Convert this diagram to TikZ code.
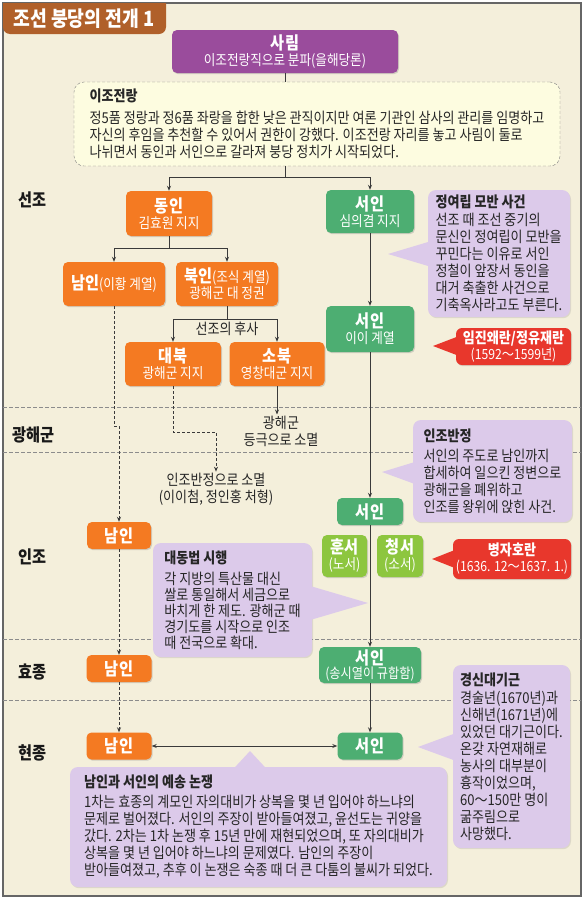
\documentclass[tikz,border=0pt]{standalone}
\usepackage{fontspec}
\setmainfont{Noto Sans CJK KR}[FakeStretch=0.87]
\usetikzlibrary{arrows.meta, calc, shadows}
\definecolor{bgcream}{HTML}{F4EFDB}
\definecolor{tabbrown}{HTML}{B0602A}
\definecolor{sarimpurple}{HTML}{9A4C9C}
\definecolor{dongorange}{HTML}{F47A22}
\definecolor{seogreen}{HTML}{4DAE72}
\definecolor{lightgreen}{HTML}{8DC63F}
\definecolor{warred}{HTML}{E8372C}
\definecolor{notelav}{HTML}{DCCAEA}
\definecolor{noteyellow}{HTML}{FDFCE0}
\definecolor{linegray}{HTML}{3A3A3A}
\newcommand{\partyname}[1]{{\fontsize{17.5}{19}\selectfont\bfseries #1}}
\newcommand{\notetitle}[1]{{\bfseries #1}}

\begin{document}
\begin{tikzpicture}[
            x=1pt, y=-1pt,
            party box/.style={rounded corners=5pt, align=center, text=white, inner sep=1pt, font=\fontsize{14.5}{16}\selectfont, drop shadow={opacity=0.3, shadow xshift=1pt, shadow yshift=-1.2pt}},
            east box/.style={party box, fill=dongorange},
            west box/.style={party box, fill=seogreen},
            sub box/.style={party box, fill=lightgreen},
            note box/.style={rounded corners=8pt, fill=notelav, align=left, inner sep=0pt, text=black!85, font=\fontsize{15}{17}\selectfont, drop shadow={opacity=0.2, shadow xshift=1pt, shadow yshift=-1.2pt}},
            war box/.style={rounded corners=6pt, fill=warred, text=white, align=center, inner sep=0pt, font=\fontsize{14}{16}\selectfont, drop shadow={opacity=0.25, shadow xshift=1pt, shadow yshift=-1.2pt}},
            link line/.style={line width=0.8pt, draw=linegray},
            link arrow/.style={link line, -{Stealth[length=5pt, width=4pt]}},
            dash arrow/.style={link arrow, dash pattern=on 3pt off 2pt},
            era line/.style={line width=0.6pt, draw=black!45, dash pattern=on 3.5pt off 2.5pt},
            era label/.style={font=\fontsize{17.5}{20}\selectfont\bfseries, anchor=west, inner sep=0pt, text=black!90},
            plain label/.style={align=center, font=\fontsize{15}{17}\selectfont, inner sep=1pt, text=black!85},
        ]

        % Page and frame
        \fill[white] (0,0) rectangle (585,900);
        \useasboundingbox (0,0) rectangle (585,900);
        \draw[line width=1.2pt, draw=black!60, fill=bgcream] (3,3) rectangle (581,896);

        % Era separators
        \foreach \y in {407, 452, 639, 700} {
            \draw[era line] (3,\y) -- (581,\y);
        }

        % Title tab
        \fill[tabbrown] (3,3) -- (166,3) [rounded corners=7pt] -- (166,34) -- (3,34) [sharp corners] -- cycle;
        \node[text=white, font=\fontsize{21}{24}\selectfont\bfseries, inner sep=0pt] (title) at (84,18.5) {조선 붕당의 전개 1};

        % Era labels
        \node[era label] (sunjo) at (18,200) {선조};
        \node[era label] (gwanghae) at (12,435) {광해군};
        \node[era label] (injoera) at (18,557) {인조};
        \node[era label] (hyojong) at (18,672) {효종};
        \node[era label] (hyeonjong) at (18,753) {현종};

        % Sarim and the Ijo jeollang note
        \node[party box, fill=sarimpurple, minimum width=226, minimum height=43] (sarim) at (285,51.5) {\partyname{사림}\\이조전랑직으로 분파(을해당론)};
        \node[rounded corners=10pt, draw=black!50, dash pattern=on 3pt off 2pt, fill=noteyellow, align=left, inner sep=0pt, text=black!85, font=\fontsize{15}{17}\selectfont, minimum width=486, minimum height=84] (ijo) at (317,124)
            {\notetitle{이조전랑}\\[5pt]
             정5품 정랑과 정6품 좌랑을 합한 낮은 관직이지만 여론 기관인 삼사의 관리를 임명하고\\
             자신의 후임을 추천할 수 있어서 권한이 강했다. 이조전랑 자리를 놓고 사림이 둘로\\
             나뉘면서 동인과 서인으로 갈라져 붕당 정치가 시작되었다.};

        % Dongin side
        \node[east box, minimum width=86, minimum height=45] (dongin) at (169,213.5) {\partyname{동인}\\김효원 지지};
        \node[east box, minimum width=102, minimum height=44] (namin1) at (114,284) {\partyname{남인}(이황 계열)};
        \node[east box, minimum width=102, minimum height=44] (bukin) at (227,284) {\partyname{북인}(조식 계열)\\광해군 대 정권};
        \node[east box, minimum width=96, minimum height=44] (daebuk) at (173,364) {\partyname{대북}\\광해군 지지};
        \node[east box, minimum width=95, minimum height=44] (sobuk) at (277,364) {\partyname{소북}\\영창대군 지지};
        \node[plain label] (heir) at (227,329) {선조의 후사};
        \node[plain label] (sobukend) at (281,431) {광해군\\등극으로 소멸};
        \node[plain label] (daebukend) at (216,489) {인조반정으로 소멸\\(이이첨, 정인홍 처형)};
        \node[east box, minimum width=64, minimum height=27] (namin2) at (119,535.5) {\partyname{남인}};
        \node[east box, minimum width=65, minimum height=27] (namin3) at (119,668.5) {\partyname{남인}};
        \node[east box, minimum width=65, minimum height=27] (namin4) at (119,746) {\partyname{남인}};

        % Seoin side
        \node[west box, minimum width=88, minimum height=43] (seoin1) at (370,211.5) {\partyname{서인}\\심의겸 지지};
        \node[west box, minimum width=88, minimum height=46] (seoin2) at (370,329) {\partyname{서인}\\이이 계열};
        \node[west box, minimum width=66, minimum height=27] (seoin3) at (370,511.5) {\partyname{서인}};
        \node[sub box, minimum width=45, minimum height=42] (hunseo) at (344.5,556) {\partyname{훈서}\\(노서)};
        \node[sub box, minimum width=46, minimum height=42] (cheongseo) at (400,556) {\partyname{청서}\\(소서)};
        \node[west box, minimum width=102, minimum height=36, font=\fontsize{14}{16}\selectfont] (seoin4) at (370,665) {\partyname{서인}\\[-2pt](송시열이 규합함)};
        \node[west box, minimum width=65, minimum height=27] (seoin5) at (370,746) {\partyname{서인}};

        % Notes
        \node[note box, minimum width=142, minimum height=127] (jeongyeorip) at (499,253.5)
            {\notetitle{정여립 모반 사건}\\[1pt]
             선조 때 조선 중기의\\문신인 정여립이 모반을\\꾸민다는 이유로 서인\\정철이 앞장서 동인을\\대거 축출한 사건으로\\기축옥사라고도 부른다.};
        \node[war box, minimum width=115, minimum height=37] (imjin) at (513.5,346.5) {{\fontsize{15}{16}\selectfont\bfseries 임진왜란/정유재란}\\(1592～1599년)};
        \node[note box, minimum width=159, minimum height=102] (injoban) at (492.5,471)
            {\notetitle{인조반정}\\[3pt]
             서인의 주도로 남인까지\\합세하여 일으킨 정변으로\\광해군을 폐위하고\\인조를 왕위에 앉힌 사건.};
        \node[war box, minimum width=118, minimum height=40] (byeongja) at (512,559) {{\fontsize{15}{16}\selectfont\bfseries 병자호란}\\(1636. 12～1637. 1.)};
        \node[note box, minimum width=159, minimum height=114, font=\fontsize{15}{16}\selectfont] (daedong) at (232.5,600)
            {\notetitle{대동법 시행}\\[5pt]
             각 지방의 특산물 대신\\쌀로 통일해서 세금으로\\바치게 한 제도. 광해군 때\\경기도를 시작으로 인조\\때 전국으로 확대.};
        \node[note box, minimum width=117, minimum height=183] (gyeongsin) at (511.5,756.5)
            {\notetitle{경신대기근}\\[1pt]
             경술년(1670년)과\\신해년(1671년)에\\있었던 대기근이다.\\온갖 자연재해로\\농사의 대부분이\\흉작이었으며,\\60～150만 명이\\굶주림으로\\사망했다.};
        \node[note box, minimum width=377, minimum height=120] (yesong) at (258.5,827)
            {\notetitle{남인과 서인의 예송 논쟁}\\[3pt]
             1차는 효종의 계모인 자의대비가 상복을 몇 년 입어야 하느냐의\\
             문제로 벌어졌다. 서인의 주장이 받아들여졌고, 윤선도는 귀양을\\
             갔다. 2차는 1차 논쟁 후 15년 만에 재현되었으며, 또 자의대비가\\
             상복을 몇 년 입어야 하느냐의 문제였다. 남인의 주장이\\
             받아들여졌고, 추후 이 논쟁은 숙종 때 더 큰 다툼의 불씨가 되었다.};

        % Note pointers
        \fill[notelav] (388,254) -- ($(jeongyeorip.west)+(2,-12)$) -- ($(jeongyeorip.west)+(2,13)$) -- cycle;
        \fill[warred] (433,346) -- ($(imjin.west)+(2,-10)$) -- ($(imjin.west)+(2,9)$) -- cycle;
        \fill[notelav] (382,472) -- ($(injoban.west)+(2,-9)$) -- ($(injoban.west)+(2,13)$) -- cycle;
        \fill[warred] (432,559) -- ($(byeongja.west)+(2,-9)$) -- ($(byeongja.west)+(2,9)$) -- cycle;
        \fill[notelav] (368,603) -- ($(daedong.east)+(-2,-14)$) -- ($(daedong.east)+(-2,20)$) -- cycle;
        \fill[notelav] (418,747) -- ($(gyeongsin.west)+(2,-23)$) -- ($(gyeongsin.west)+(2,4)$) -- cycle;
        \fill[notelav] (250,751) -- ($(yesong.north)+(-25,2)$) -- ($(yesong.north)+(8,2)$) -- cycle;

        % Connectors
        \draw[link line] (sarim.south) -- (sarim.south |- ijo.north);
        \draw[link line] (sarim.south |- ijo.south) -- ++(0,11) coordinate (split1);
        \draw[link arrow] (split1) -| (dongin.north);
        \draw[link arrow] (split1) -| (seoin1.north);
        \draw[link line] (dongin.south) -- ++(0,12) coordinate (split2);
        \draw[link arrow] (split2) -| (namin1.north);
        \draw[link arrow] (split2) -| (bukin.north);
        \draw[link line] (bukin.south) -- ++(0,13) coordinate (split3);
        \draw[link arrow] (split3) -| (daebuk.north);
        \draw[link arrow] (split3) -| (sobuk.north);
        \draw[link arrow] (sobuk.south) -- (sobuk.south |- sobukend.north);
        \draw[dash arrow] (daebuk.south) -- ++(0,46) -| (daebukend.north);
        \draw[dash arrow] (namin1.south) -- ++(0,120) -| (namin2.north);
        \draw[dash arrow] (namin2.south) -- (namin3.north);
        \draw[dash arrow] (namin3.south) -- (namin4.north);
        \draw[link arrow] (seoin1.south) -- (seoin2.north);
        \draw[link arrow] (seoin2.south) -- (seoin3.north);
        \draw[link arrow] (seoin3.south) -- (seoin4.north);
        \draw[link arrow] (seoin4.south) -- (seoin5.north);
        \draw[link line, {Stealth[length=5pt, width=4pt]}-{Stealth[length=5pt, width=4pt]}] (namin4.east) -- (seoin5.west);

        \end{tikzpicture}
\end{document}
